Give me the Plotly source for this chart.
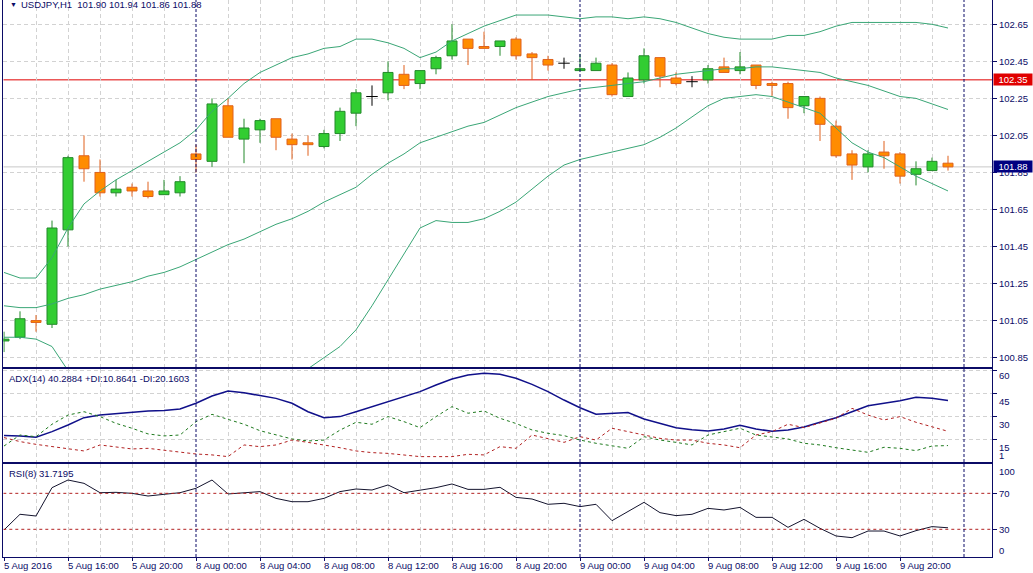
import plotly.graph_objects as go
from plotly.subplots import make_subplots

# H1 bars, index 0 = 5 Aug 2016 12:00 ... index 59 = 9 Aug 23:00 (weekend skipped)
opens = [100.94, 100.96, 101.05, 101.03, 101.54, 101.94, 101.85, 101.74, 101.77, 101.75,
         101.73, 101.74, 101.95, 101.91, 102.21, 102.03, 102.08, 102.14, 102.03, 102.01,
         101.99, 102.06, 102.17, 102.26, 102.28, 102.38, 102.33, 102.41, 102.48, 102.57,
         102.53, 102.53, 102.57, 102.49, 102.46, 102.44, 102.40, 102.40, 102.43, 102.26,
         102.35, 102.47, 102.36, 102.34, 102.35, 102.42, 102.40, 102.43, 102.33, 102.33,
         102.21, 102.25, 102.10, 101.95, 101.88, 101.96, 101.95, 101.84, 101.86, 101.90]
highs = [100.99, 101.10, 101.08, 101.59, 101.94, 102.05, 101.92, 101.81, 101.79, 101.80,
         101.81, 101.83, 102.00, 102.25, 102.25, 102.14, 102.14, 102.14, 102.06, 102.05,
         102.08, 102.20, 102.30, 102.32, 102.45, 102.43, 102.40, 102.48, 102.65, 102.57,
         102.61, 102.56, 102.58, 102.50, 102.48, 102.47, 102.49, 102.47, 102.44, 102.39,
         102.52, 102.47, 102.39, 102.37, 102.43, 102.47, 102.50, 102.43, 102.34, 102.34,
         102.26, 102.26, 102.13, 101.97, 101.97, 102.02, 101.96, 101.91, 101.93, 101.94]
lows = [100.88, 100.95, 100.99, 101.01, 101.45, 101.80, 101.72, 101.72, 101.72, 101.71,
        101.73, 101.72, 101.85, 101.88, 102.04, 101.90, 102.01, 101.97, 101.92, 101.94,
        101.98, 102.02, 102.10, 102.21, 102.24, 102.30, 102.30, 102.38, 102.46, 102.43,
        102.52, 102.48, 102.46, 102.35, 102.40, 102.41, 102.40, 102.40, 102.26, 102.26,
        102.33, 102.31, 102.32, 102.31, 102.33, 102.39, 102.38, 102.30, 102.26, 102.14,
        102.17, 102.02, 101.93, 101.81, 101.85, 101.87, 101.79, 101.78, 101.86, 101.86]
closes = [100.95, 101.06, 101.04, 101.55, 101.93, 101.87, 101.74, 101.76, 101.75, 101.72,
          101.75, 101.80, 101.92, 102.22, 102.04, 102.09, 102.13, 102.04, 102.00, 102.00,
          102.06, 102.18, 102.28, 102.26, 102.39, 102.32, 102.40, 102.47, 102.56, 102.52,
          102.52, 102.56, 102.48, 102.47, 102.43, 102.44, 102.41, 102.44, 102.27, 102.36,
          102.48, 102.37, 102.33, 102.34, 102.41, 102.39, 102.42, 102.32, 102.32, 102.20,
          102.26, 102.11, 101.94, 101.89, 101.95, 101.94, 101.83, 101.87, 101.91, 101.88]

bb_upper = [101.31, 101.28, 101.28, 101.39, 101.55, 101.68, 101.75, 101.81, 101.86, 101.91,
            101.96, 102.01, 102.08, 102.18, 102.25, 102.33, 102.39, 102.43, 102.47, 102.49,
            102.52, 102.53, 102.57, 102.57, 102.55, 102.52, 102.47, 102.50, 102.56, 102.60,
            102.64, 102.67, 102.70, 102.70, 102.70, 102.69, 102.68, 102.69, 102.69, 102.68,
            102.69, 102.68, 102.66, 102.63, 102.60, 102.58, 102.57, 102.57, 102.57, 102.59,
            102.59, 102.61, 102.64, 102.66, 102.66, 102.66, 102.66, 102.66, 102.65, 102.63]
bb_middle = [101.13, 101.12, 101.12, 101.14, 101.17, 101.19, 101.22, 101.24, 101.26, 101.29,
             101.31, 101.34, 101.38, 101.42, 101.46, 101.49, 101.53, 101.57, 101.60, 101.64,
             101.69, 101.73, 101.77, 101.84, 101.90, 101.95, 102.01, 102.04, 102.07, 102.10,
             102.12, 102.16, 102.20, 102.23, 102.26, 102.28, 102.30, 102.31, 102.32, 102.33,
             102.34, 102.36, 102.38, 102.39, 102.40, 102.41, 102.41, 102.42, 102.42, 102.41,
             102.40, 102.39, 102.36, 102.34, 102.32, 102.29, 102.26, 102.25, 102.22, 102.19]
bb_lower = [100.96, 100.96, 100.95, 100.91, 100.78, 100.70, 100.68, 100.67, 100.67, 100.66,
            100.67, 100.68, 100.68, 100.66, 100.67, 100.66, 100.67, 100.70, 100.73, 100.79,
            100.85, 100.91, 101.00, 101.13, 101.27, 101.41, 101.55, 101.59, 101.58, 101.58,
            101.60, 101.64, 101.69, 101.76, 101.83, 101.89, 101.92, 101.94, 101.96, 101.98,
            102.00, 102.04, 102.09, 102.15, 102.21, 102.25, 102.26, 102.27, 102.26, 102.23,
            102.20, 102.17, 102.09, 102.01, 101.96, 101.93, 101.88, 101.83, 101.79, 101.75]

adx = [17.4, 17.2, 16.3, 20.0, 24.3, 29.1, 30.8, 31.7, 33.0, 33.5,
       33.7, 34.8, 38.5, 43.2, 46.5, 45.4, 43.5, 41.7, 38.5, 33.0,
       29.1, 29.8, 33.0, 36.3, 39.5, 42.8, 46.1, 50.4, 54.3, 56.9,
       58.0, 57.4, 54.8, 50.8, 46.1, 40.6, 35.6, 31.3, 31.9, 32.4,
       28.2, 25.4, 22.6, 21.3, 20.4, 21.7, 24.1, 21.7, 20.2, 21.1,
       23.0, 26.1, 29.1, 33.0, 36.9, 38.5, 40.2, 42.4, 41.7, 40.3]
plus_di = [10.6, 17.8, 16.7, 24.8, 30.8, 33.0, 29.8, 25.4, 22.2, 18.5,
           17.2, 17.8, 26.5, 31.3, 28.0, 24.8, 20.6, 17.8, 15.2, 13.9,
           14.5, 21.0, 26.1, 24.8, 29.8, 26.5, 22.6, 29.8, 36.3, 32.0,
           33.5, 28.7, 25.3, 21.1, 18.9, 17.4, 14.5, 12.4, 10.9, 9.1,
           16.7, 14.5, 13.0, 11.3, 17.8, 20.0, 22.2, 17.8, 16.7, 15.2,
           12.4, 11.3, 9.5, 8.0, 6.5, 9.8, 9.1, 7.6, 10.6, 10.9]
minus_di = [16.1, 13.5, 11.7, 10.4, 8.7, 7.4, 11.3, 10.2, 8.7, 9.1,
            8.0, 6.5, 5.4, 4.8, 3.7, 11.3, 10.2, 11.3, 14.5, 13.0,
            11.3, 9.5, 7.4, 6.3, 5.8, 4.8, 3.7, 3.7, 3.7, 5.2,
            4.8, 10.2, 9.1, 17.8, 15.6, 13.0, 16.7, 14.5, 22.2, 20.0,
            17.4, 15.6, 14.5, 14.5, 12.4, 11.3, 9.5, 17.8, 20.0, 24.8,
            22.6, 25.4, 28.7, 35.2, 30.8, 27.6, 29.8, 26.1, 23.3, 20.2]
rsi = [29.3, 46.7, 44.8, 76.3, 84.8, 81.1, 70.7, 71.1, 70.0, 67.0,
       68.9, 70.7, 75.6, 84.8, 69.3, 70.7, 71.9, 64.4, 60.7, 60.7,
       64.4, 71.9, 74.8, 73.7, 79.3, 70.7, 73.7, 76.3, 80.4, 74.4,
       74.4, 76.7, 65.5, 63.7, 57.8, 58.9, 55.2, 57.8, 39.6, 49.6,
       60.0, 48.5, 45.2, 46.7, 53.3, 51.5, 54.4, 43.3, 43.3, 32.2,
       41.1, 31.1, 22.6, 20.7, 28.1, 28.1, 22.6, 28.5, 33.0, 31.7]

label_bars = [0, 4, 8, 12, 16, 20, 24, 28, 32, 36, 40, 44, 48, 52, 56]
label_text = ["5 Aug 2016", "5 Aug 16:00", "5 Aug 20:00", "8 Aug 00:00", "8 Aug 04:00",
              "8 Aug 08:00", "8 Aug 12:00", "8 Aug 16:00", "8 Aug 20:00", "9 Aug 00:00",
              "9 Aug 04:00", "9 Aug 08:00", "9 Aug 12:00", "9 Aug 16:00", "9 Aug 20:00"]
day_starts = [12, 36, 60]
price_ticks = [100.85, 101.05, 101.25, 101.45, 101.65, 101.85, 102.05, 102.25, 102.45, 102.65]
adx_ticks = [60, 45, 30, 15]
hline_price = 102.35

W, H = 1033, 573
NAVY = "#0b0b66"
GRID = "#d2d2d2"
FONT = "Liberation Sans, Arial, sans-serif"
UP_FILL, UP_LINE = "#32cd32", "#23892a"
DN_FILL, DN_LINE = "#ff8c00", "#e0611c"


def py(px):  # pixel row -> paper y
    return 1 - px / H


idx = list(range(len(opens)))

fig = make_subplots(rows=3, cols=1, shared_xaxes=True, vertical_spacing=0.0)

# candle bodies + wicks
body_x, body_h, body_b, body_fill, body_line = [], [], [], [], []
wick = {"up": ([], []), "dn": ([], []), "doji": ([], [])}
for k in idx:
    o, h, l, c = opens[k], highs[k], lows[k], closes[k]
    top, bot = max(o, c), min(o, c)
    if c == o:
        xs, ys = wick["doji"]
        xs += [k, k, None, k - 0.36, k + 0.36, None]
        ys += [h, l, None, o, o, None]
        continue
    kind = "up" if c > o else "dn"
    body_x.append(k)
    body_h.append(top - bot)
    body_b.append(bot)
    body_fill.append(UP_FILL if kind == "up" else DN_FILL)
    body_line.append(UP_LINE if kind == "up" else DN_LINE)
    xs, ys = wick[kind]
    if h > top:
        xs += [k, k, None]
        ys += [top, h, None]
    if l < bot:
        xs += [k, k, None]
        ys += [bot, l, None]

for kind, col in [("up", UP_LINE), ("dn", DN_LINE), ("doji", "#000000")]:
    xs, ys = wick[kind]
    fig.add_trace(go.Scatter(x=xs, y=ys, mode="lines", line=dict(color=col, width=1),
                             hoverinfo="skip"), row=1, col=1)

fig.add_trace(go.Bar(x=body_x, y=body_h, base=body_b, width=0.625,
                     marker=dict(color=body_fill, line=dict(color=body_line, width=1))),
              row=1, col=1)

for band in (bb_upper, bb_middle, bb_lower):
    fig.add_trace(go.Scatter(x=idx, y=band, mode="lines",
                             line=dict(color="#3aa676", width=1)), row=1, col=1)

# ADX window
fig.add_trace(go.Scatter(x=idx, y=adx, mode="lines", line=dict(color="#10108a", width=1.5)),
              row=2, col=1)
fig.add_trace(go.Scatter(x=idx, y=plus_di, mode="lines",
                         line=dict(color="#1f7a1f", width=1, dash="3px,3px")), row=2, col=1)
fig.add_trace(go.Scatter(x=idx, y=minus_di, mode="lines",
                         line=dict(color="#b22222", width=1, dash="3px,3px")), row=2, col=1)

# RSI window
fig.add_trace(go.Scatter(x=idx, y=rsi, mode="lines", line=dict(color="#14142e", width=1)),
              row=3, col=1)

grid_bars = [k for k in range(2, 60, 2) if k not in day_starts]
x_range = [(3.3 - 4) / 16, (992 - 4) / 16]
x_dom = [3.3 / W, 992 / W]
for i in (1, 2, 3):
    fig.update_xaxes(
        row=i, col=1, range=x_range, domain=x_dom, showgrid=False, zeroline=False,
        automargin=False, tickmode="array", tickvals=label_bars, showticklabels=False,
        ticks="outside" if i == 3 else "", ticklen=3, tickcolor=NAVY,
        minor=dict(tickmode="array", tickvals=grid_bars, showgrid=True, gridcolor=GRID,
                   griddash="4px,3px", gridwidth=1, ticks=""),
        showline=True, linecolor=NAVY, linewidth=1, mirror=(i != 1),
    )

axis_font = dict(family=FONT, size=9.5, color=NAVY)
fig.update_yaxes(row=1, col=1, domain=[py(367), 1], range=[100.7994, 102.7812], side="right",
                 tickmode="array", tickvals=price_ticks,
                 ticktext=[f"{v:.2f}" for v in price_ticks], automargin=False,
                 showgrid=True, gridcolor=GRID, griddash="4px,3px", zeroline=False,
                 ticks="outside", ticklen=4, tickcolor=NAVY, tickfont=axis_font,
                 showline=True, mirror=True, linecolor=NAVY, linewidth=1)
fig.update_yaxes(row=2, col=1, domain=[py(461.7), py(369)], range=[0.38, 60.85], side="right",
                 tickmode="array", tickvals=adx_ticks, showticklabels=False, automargin=False,
                 showgrid=True, gridcolor=GRID, griddash="4px,3px", zeroline=False,
                 ticks="outside", ticklen=4, tickcolor=NAVY,
                 showline=True, mirror=True, linecolor=NAVY, linewidth=1)
fig.update_yaxes(row=3, col=1, domain=[py(556.7), py(464)], range=[-0.44, 102.6], side="right",
                 tickmode="array", tickvals=[30, 70], showgrid=False, zeroline=False,
                 automargin=False,
                 ticks="outside", ticklen=4, tickcolor=NAVY, tickfont=axis_font,
                 showline=True, mirror=True, linecolor=NAVY, linewidth=1)

shapes = [
    dict(type="line", xref="x", x0=x_range[0], x1=x_range[1], yref="y",
         y0=closes[-1], y1=closes[-1], line=dict(color="#c8c8c8", width=1), layer="below"),
    dict(type="line", xref="x", x0=x_range[0], x1=x_range[1], yref="y",
         y0=hline_price, y1=hline_price, line=dict(color="#e00000", width=1), layer="below"),
]
for lvl in (70, 30):
    shapes.append(dict(type="line", xref="x3", x0=x_range[0], x1=x_range[1], yref="y3",
                       y0=lvl, y1=lvl, line=dict(color="#b22222", width=1, dash="3px,3px")))
for d in day_starts:
    shapes.append(dict(type="line", xref="x", x0=d, x1=d, yref="paper", y0=py(557), y1=1,
                       line=dict(color=NAVY, width=1, dash="3px,2px")))

ann = []
for b, t in zip(label_bars, label_text):
    ann.append(dict(xref="x3", x=b, yref="paper", y=py(565), text=t, showarrow=False,
                    xanchor="left", yanchor="middle", xshift=-2, font=axis_font))
ann.append(dict(xref="paper", x=8 / W, yref="paper", y=py(4.5), text="▼", showarrow=False,
                xanchor="left", yanchor="middle", font=dict(family=FONT, size=7, color=NAVY)))
ann.append(dict(xref="paper", x=19 / W, yref="paper", y=py(4.5), showarrow=False,
                text=f"USDJPY,H1  {opens[-1]:.2f} {highs[-1]:.2f} {lows[-1]:.2f} {closes[-1]:.2f}",
                xanchor="left", yanchor="middle", font=axis_font))
ann.append(dict(xref="paper", x=7 / W, yref="paper", y=py(378.3), showarrow=False,
                text="ADX(14) 40.2884 +DI:10.8641 -DI:20.1603",
                xanchor="left", yanchor="middle", font=axis_font))
ann.append(dict(xref="paper", x=7 / W, yref="paper", y=py(473.7), showarrow=False,
                text="RSI(8) 31.7195", xanchor="left", yanchor="middle", font=axis_font))
# ADX window labels sit just under their tick marks
for v in adx_ticks:
    ann.append(dict(xref="paper", x=997 / W, yref="y2", y=v, text=str(v), showarrow=False,
                    xanchor="left", yanchor="middle", yshift=-5.5 if v == 60 else -8,
                    font=axis_font))
for txt, ypx in (("1", 455.7), ("100", 471.7), ("0", 550.7)):
    ann.append(dict(xref="paper", x=997 / W, yref="paper", y=py(ypx), text=txt,
                    showarrow=False, xanchor="left", yanchor="middle", font=axis_font))
for price, bg in ((hline_price, "#e00000"), (closes[-1], "#000080")):
    ann.append(dict(xref="paper", x=993 / W, yref="y", y=price, text=f"{price:.2f}",
                    showarrow=False, xanchor="left", yanchor="middle", width=38, height=11,
                    align="center", bgcolor=bg, borderpad=0,
                    font=dict(family=FONT, size=9.5, color="#ffffff")))

fig.update_layout(
    width=W, height=H, margin=dict(l=0, r=0, t=0, b=0, pad=0, autoexpand=False),
    paper_bgcolor="white", plot_bgcolor="rgba(0,0,0,0)", showlegend=False,
    shapes=shapes, annotations=ann, hovermode=False,
)

# page body margin would push the chart 8px off the top-left corner
fig.write_html("out.html", config={"displayModeBar": False},
               post_script="document.body.style.margin = '0px';")
